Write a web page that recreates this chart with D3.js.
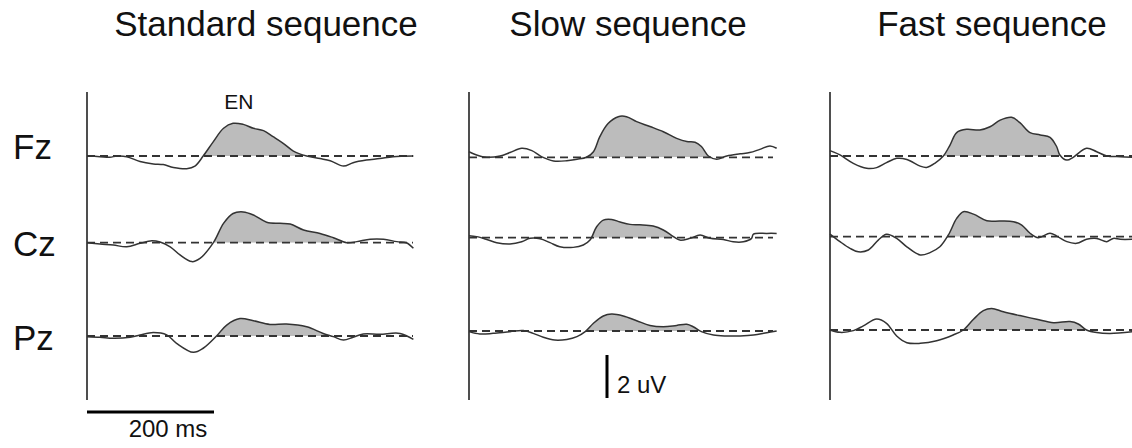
<!DOCTYPE html>
<html>
<head>
<meta charset="utf-8">
<script src="https://cdn.jsdelivr.net/npm/d3@7"></script>
<style>
  html, body { margin: 0; padding: 0; background: #fff; }
  svg { display: block; font-family: "Liberation Sans", Arial, Helvetica, sans-serif; }
</style>
</head>
<body>
<svg id="chart" width="1132" height="448"></svg>
<script>
// ---------- DATA (time in ms, amplitude in µV, positive up) ----------
const panels = ["Standard sequence", "Slow sequence", "Fast sequence"];
const channels = ["Fz", "Cz", "Pz"];

const standardFz = [[0,0],[20.5,-0.03],[36,-0.06],[47,0],[62.5,-0.03],[83.5,-0.26],[104.5,-0.37],[120,-0.40],[136,-0.53],[157,-0.59],[170,-0.47],[183,0],[199,0.67],[215,1.29],[230,1.52],[246,1.47],[262,1.29],[278,1.18],[293,0.90],[309,0.59],[325,0.23],[346,0],[367,-0.12],[383,-0.22],[404,-0.47],[419,-0.31],[440,-0.19],[461,-0.12],[482,-0.03],[514,0]];
const standardCz = [[0,0],[20.5,-0.06],[41.5,-0.11],[62.5,-0.19],[83.5,-0.03],[102,0.09],[115,0.03],[131,-0.19],[146.5,-0.57],[165,-0.88],[178,-0.73],[199,0],[215,0.90],[230,1.36],[246,1.43],[262,1.29],[283,0.95],[304,0.90],[320,0.87],[341,0.59],[367,0.43],[388,0.23],[409,0],[425,0.05],[446,0.16],[467,0.16],[488,0.05],[503,0],[514,-0.26]];
const standardPz = [[0,-0.03],[20.5,-0.06],[41.5,-0.11],[68,-0.06],[83.5,0.05],[104.5,0.16],[125.5,0.05],[141,-0.34],[167.5,-0.76],[183,-0.57],[204,0],[220,0.51],[241,0.81],[262,0.71],[288,0.54],[314,0.56],[346,0.43],[372,0.12],[388,-0.03],[404,-0.19],[419,-0.06],[435,0.09],[461,0.08],[493,0.12],[514,-0.16]];

const slowFz = [[0,0.26],[12,0.11],[28,0],[49,0.06],[64.6,0.22],[83,0.42],[99,0.31],[114,0.03],[133,-0.17],[154,-0.16],[170,-0.09],[185,0],[196,0.26],[206,0.96],[219,1.57],[235,1.89],[248,1.89],[264,1.66],[285,1.43],[306,1.19],[327,0.88],[343,0.73],[356,0.70],[366,0.50],[377,0.06],[390,-0.09],[406,0.06],[427,0.16],[442,0.22],[458,0.37],[474,0.53],[484.5,0.42]];
const slowCz = [[0,0.09],[12,0.05],[28,-0.08],[43.6,-0.23],[64.6,-0.29],[83,-0.19],[96,-0.03],[112,-0.05],[127.6,-0.23],[143,-0.42],[164,-0.45],[180,-0.34],[190.6,-0.11],[201,0.51],[211.5,0.82],[224.7,0.85],[238,0.73],[253.5,0.62],[269,0.60],[290,0.54],[306,0.36],[322,0.05],[332,-0.11],[348,-0.03],[364,0.12],[379.5,-0.03],[400.5,-0.08],[416,-0.19],[432,-0.19],[445,-0.03],[448,0.17],[469,0.20],[484.5,0.20]];
const slowPz = [[0,-0.03],[17,-0.14],[38,-0.11],[64.6,-0.03],[85.6,0.02],[101,-0.11],[117,-0.29],[135,-0.42],[154,-0.39],[170,-0.26],[183,-0.03],[196,0.36],[211.5,0.70],[224.7,0.79],[243,0.70],[264,0.48],[285,0.26],[306,0.20],[327,0.26],[343,0.31],[353,0.20],[366,-0.03],[385,-0.19],[406,-0.23],[427,-0.23],[448,-0.19],[469,-0.08],[484.5,0]];

const fastFz = [[0,0.25],[15.7,0.05],[36.7,-0.34],[57.7,-0.57],[73.5,-0.54],[89,-0.31],[105,-0.11],[121,-0.16],[142,-0.47],[152,-0.53],[165,-0.34],[178.5,0],[189,0.51],[199.5,1.09],[215,1.24],[236,1.21],[252,1.36],[268,1.67],[286,1.80],[299,1.55],[315,1.09],[331,0.98],[346.5,0.87],[357,0.43],[362,0.05],[373,-0.19],[383,-0.06],[404,0.36],[420,0.20],[436,0],[457,-0.03],[476,-0.06]];
const fastCz = [[0,0.12],[15.7,-0.23],[31.5,-0.54],[44.6,-0.70],[60.4,-0.62],[76,-0.16],[89,0.11],[105,-0.08],[121,-0.47],[142,-0.85],[157.5,-0.74],[173,-0.47],[186.4,0.08],[199.5,0.85],[210,1.16],[226,1.05],[247,0.74],[268,0.73],[289,0.70],[302,0.54],[315,0.16],[328,-0.05],[346.5,0.16],[357,0.03],[373,-0.23],[388.5,-0.31],[404,-0.12],[420,-0.08],[436,-0.23],[446,-0.08],[457,-0.12],[476,-0.12]];
const fastPz = [[0,0],[15.7,-0.11],[36.7,-0.03],[52.5,0.19],[73.5,0.51],[89,0.31],[105,-0.28],[121,-0.59],[142,-0.62],[168,-0.50],[194,-0.23],[210,0],[226,0.50],[241.5,0.90],[254.6,1.0],[273,0.85],[299,0.67],[325.5,0.50],[352,0.34],[378,0.39],[391,0.28],[404,0],[420,-0.12],[441,-0.16],[476,-0.08]];

// EN (shaded) windows in ms, per panel row
const enWindows = [
  [[183, 346], [199, 409], [204, 388]],
  [[185, 380], [190, 325], [183, 367]],
  [[178, 363], [186, 328], [210, 404]]
];
const scaleBarTime = 200;   // ms
const scaleBarAmp = 2;      // µV
const scaleTimeLabel = "200 ms";
const scaleAmpLabel = "2 uV";
const componentLabel = "EN";

const series = [
  [standardFz, standardCz, standardPz],
  [slowFz, slowCz, slowPz],
  [fastFz, fastCz, fastPz]
];

// ---------- LAYOUT ----------
const svg = d3.select("#chart");
const pxPerMs = 0.635;
const pxPerUv = 21.5;
const panelX0 = [87, 469, 830];
const panelDashEnd = [413, 773, 1132];
const titleX = [266, 628, 992];
const baselines = [[156, 242.7, 336], [157.3, 237.7, 331], [156, 236.7, 330]];
const rowLabelY = [159, 256, 350];

// titles
svg.selectAll("text.title").data(panels).join("text")
  .attr("class", "title")
  .attr("x", (d, i) => titleX[i]).attr("y", 36)
  .attr("text-anchor", "middle")
  .attr("font-size", 35).attr("fill", "#111")
  .text(d => d);

// channel labels
svg.selectAll("text.chan").data(channels).join("text")
  .attr("class", "chan")
  .attr("x", 13).attr("y", (d, i) => rowLabelY[i])
  .attr("font-size", 35).attr("fill", "#111")
  .text(d => d);

let xScales = [];
panels.forEach((p, pi) => {
  const x = d3.scaleLinear().domain([0, 100]).range([panelX0[pi], panelX0[pi] + 100 * pxPerMs]);
  xScales.push(x);
  const g = svg.append("g");
  const tMax = x.invert(panelDashEnd[pi]);

  // vertical axis line
  g.append("line")
    .attr("x1", x(0)).attr("x2", x(0)).attr("y1", 92).attr("y2", 400)
    .attr("stroke", "#222").attr("stroke-width", 1.6);

  channels.forEach((c, ci) => {
    const b = baselines[pi][ci];
    const y = d3.scaleLinear().domain([0, 1]).range([b, b - pxPerUv]);
    const data = series[pi][ci];
    const curve = d3.curveCatmullRom.alpha(0.5);
    const win = enWindows[pi][ci];
    const clipId = `clip-${pi}-${ci}`;
    svg.append("clipPath").attr("id", clipId)
      .append("rect")
      .attr("x", x(win[0])).attr("width", x(win[1]) - x(win[0]))
      .attr("y", b - 200).attr("height", 200);

    const area = d3.area().x(d => x(d[0])).y0(y(0)).y1(d => y(d[1])).curve(curve);
    g.append("path").datum(data)
      .attr("d", area)
      .attr("fill", "#bcbcbc")
      .attr("clip-path", `url(#${clipId})`);

    // dashed baseline
    g.append("line")
      .attr("x1", x(0)).attr("x2", x(tMax))
      .attr("y1", y(0)).attr("y2", y(0))
      .attr("stroke", "#333").attr("stroke-width", 1.8)
      .attr("stroke-dasharray", "8,5");

    const line = d3.line().x(d => x(d[0])).y(d => y(d[1])).curve(curve);
    g.append("path").datum(data)
      .attr("d", line)
      .attr("fill", "none")
      .attr("stroke", "#333").attr("stroke-width", 1.5)
      .attr("stroke-linejoin", "round");
  });
});

// EN label
svg.append("text")
  .attr("x", xScales[0](216)).attr("y", 109)
  .attr("font-size", 21).attr("fill", "#111")
  .text(componentLabel);

// time scale bar
const xs = xScales[0];
svg.append("line")
  .attr("x1", xs(0)).attr("x2", xs(scaleBarTime))
  .attr("y1", 412).attr("y2", 412)
  .attr("stroke", "#000").attr("stroke-width", 3);
svg.append("text")
  .attr("x", 168).attr("y", 437)
  .attr("text-anchor", "middle")
  .attr("font-size", 24).attr("fill", "#111")
  .text(scaleTimeLabel);

// amplitude scale bar
const ya = d3.scaleLinear().domain([0, 1]).range([398, 398 - pxPerUv]);
svg.append("line")
  .attr("x1", 607).attr("x2", 607)
  .attr("y1", ya(0)).attr("y2", ya(scaleBarAmp))
  .attr("stroke", "#000").attr("stroke-width", 3);
svg.append("text")
  .attr("x", 617).attr("y", 393)
  .attr("font-size", 24).attr("fill", "#111")
  .text(scaleAmpLabel);
</script>
</body>
</html>
